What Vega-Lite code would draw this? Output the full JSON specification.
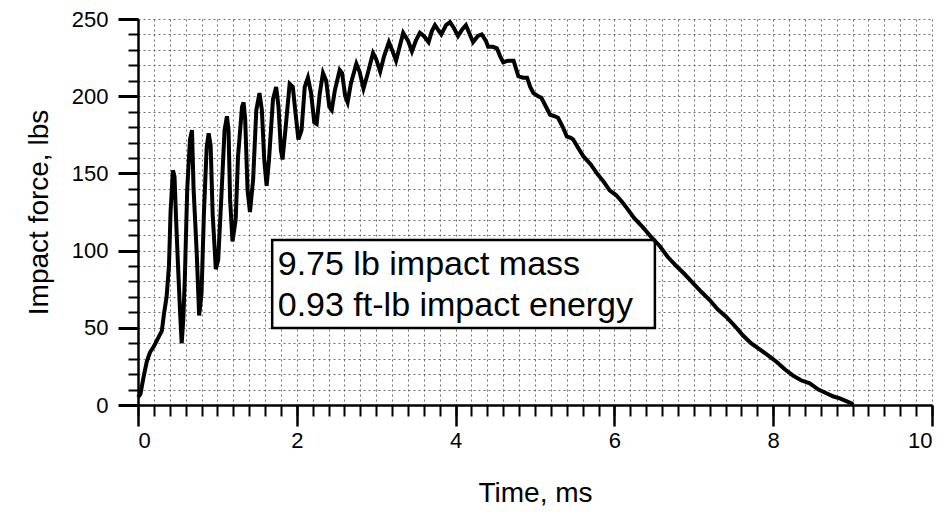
{
  "$schema": "https://vega.github.io/schema/vega-lite/v6.json",
  "width": 794,
  "height": 386,
  "autosize": "none",
  "padding": {"left": 138, "top": 19, "right": 18, "bottom": 107},
  "background": "white",
  "config": {
    "view": {"stroke": null},
    "font": "Liberation Sans",
    "axis": {
      "labelFont": "Liberation Sans",
      "titleFont": "Liberation Sans",
      "labelColor": "black",
      "titleColor": "black",
      "tickColor": "black",
      "domainColor": "black",
      "titleFontWeight": "normal"
    }
  },
  "datasets": {
    "force": [
      {"t": 0.00, "F": 5}, {"t": 0.03, "F": 7}, {"t": 0.07, "F": 18}, {"t": 0.11, "F": 28},
      {"t": 0.15, "F": 34}, {"t": 0.20, "F": 38}, {"t": 0.25, "F": 43}, {"t": 0.30, "F": 48},
      {"t": 0.33, "F": 60}, {"t": 0.36, "F": 70}, {"t": 0.39, "F": 90}, {"t": 0.41, "F": 125},
      {"t": 0.44, "F": 152}, {"t": 0.46, "F": 148}, {"t": 0.48, "F": 120}, {"t": 0.50, "F": 95},
      {"t": 0.53, "F": 60}, {"t": 0.55, "F": 40}, {"t": 0.57, "F": 55}, {"t": 0.59, "F": 82},
      {"t": 0.62, "F": 140}, {"t": 0.655, "F": 172}, {"t": 0.68, "F": 178}, {"t": 0.70, "F": 140},
      {"t": 0.74, "F": 98}, {"t": 0.77, "F": 58}, {"t": 0.80, "F": 72}, {"t": 0.83, "F": 124},
      {"t": 0.865, "F": 167}, {"t": 0.89, "F": 176}, {"t": 0.915, "F": 168}, {"t": 0.94, "F": 124},
      {"t": 0.98, "F": 88}, {"t": 1.01, "F": 94}, {"t": 1.05, "F": 135}, {"t": 1.09, "F": 178},
      {"t": 1.12, "F": 187}, {"t": 1.14, "F": 178}, {"t": 1.16, "F": 133}, {"t": 1.19, "F": 106},
      {"t": 1.23, "F": 120}, {"t": 1.26, "F": 161}, {"t": 1.31, "F": 193}, {"t": 1.33, "F": 196},
      {"t": 1.35, "F": 185}, {"t": 1.38, "F": 139}, {"t": 1.41, "F": 125}, {"t": 1.45, "F": 146},
      {"t": 1.49, "F": 191}, {"t": 1.53, "F": 202}, {"t": 1.56, "F": 191}, {"t": 1.59, "F": 159},
      {"t": 1.62, "F": 142}, {"t": 1.65, "F": 159}, {"t": 1.70, "F": 198}, {"t": 1.74, "F": 206},
      {"t": 1.77, "F": 193}, {"t": 1.80, "F": 165}, {"t": 1.82, "F": 159}, {"t": 1.86, "F": 180},
      {"t": 1.91, "F": 208}, {"t": 1.95, "F": 206}, {"t": 1.98, "F": 191}, {"t": 2.02, "F": 172},
      {"t": 2.06, "F": 178}, {"t": 2.10, "F": 206}, {"t": 2.14, "F": 212}, {"t": 2.18, "F": 202},
      {"t": 2.22, "F": 183}, {"t": 2.25, "F": 182}, {"t": 2.29, "F": 202}, {"t": 2.33, "F": 215},
      {"t": 2.37, "F": 210}, {"t": 2.41, "F": 193}, {"t": 2.44, "F": 191}, {"t": 2.48, "F": 204},
      {"t": 2.54, "F": 217}, {"t": 2.57, "F": 215}, {"t": 2.61, "F": 200}, {"t": 2.64, "F": 196},
      {"t": 2.68, "F": 208}, {"t": 2.75, "F": 221}, {"t": 2.79, "F": 216}, {"t": 2.84, "F": 205},
      {"t": 2.89, "F": 214}, {"t": 2.96, "F": 228}, {"t": 3.00, "F": 224}, {"t": 3.05, "F": 216},
      {"t": 3.10, "F": 226}, {"t": 3.16, "F": 235}, {"t": 3.20, "F": 230}, {"t": 3.25, "F": 223},
      {"t": 3.30, "F": 233}, {"t": 3.34, "F": 241}, {"t": 3.40, "F": 236}, {"t": 3.45, "F": 229},
      {"t": 3.50, "F": 236}, {"t": 3.55, "F": 241}, {"t": 3.60, "F": 239}, {"t": 3.66, "F": 235},
      {"t": 3.70, "F": 242}, {"t": 3.74, "F": 246}, {"t": 3.78, "F": 243}, {"t": 3.82, "F": 240},
      {"t": 3.88, "F": 246}, {"t": 3.93, "F": 248}, {"t": 3.98, "F": 244}, {"t": 4.03, "F": 239},
      {"t": 4.08, "F": 243}, {"t": 4.13, "F": 246}, {"t": 4.18, "F": 240}, {"t": 4.22, "F": 235},
      {"t": 4.28, "F": 239}, {"t": 4.33, "F": 240}, {"t": 4.38, "F": 236}, {"t": 4.41, "F": 232},
      {"t": 4.47, "F": 232}, {"t": 4.52, "F": 231}, {"t": 4.56, "F": 226}, {"t": 4.60, "F": 222},
      {"t": 4.66, "F": 223}, {"t": 4.73, "F": 223}, {"t": 4.76, "F": 218}, {"t": 4.79, "F": 213},
      {"t": 4.85, "F": 212}, {"t": 4.90, "F": 212}, {"t": 4.94, "F": 206}, {"t": 4.98, "F": 202},
      {"t": 5.04, "F": 200}, {"t": 5.08, "F": 199}, {"t": 5.14, "F": 193}, {"t": 5.19, "F": 188},
      {"t": 5.25, "F": 187}, {"t": 5.29, "F": 186}, {"t": 5.35, "F": 180}, {"t": 5.40, "F": 174},
      {"t": 5.45, "F": 173}, {"t": 5.48, "F": 172}, {"t": 5.55, "F": 166}, {"t": 5.61, "F": 161},
      {"t": 5.70, "F": 156}, {"t": 5.78, "F": 150}, {"t": 5.86, "F": 145}, {"t": 5.94, "F": 139},
      {"t": 6.02, "F": 136}, {"t": 6.09, "F": 132}, {"t": 6.15, "F": 128}, {"t": 6.25, "F": 121},
      {"t": 6.36, "F": 115}, {"t": 6.46, "F": 109}, {"t": 6.57, "F": 103}, {"t": 6.67, "F": 96},
      {"t": 6.78, "F": 90}, {"t": 6.88, "F": 85}, {"t": 6.99, "F": 79}, {"t": 7.10, "F": 73},
      {"t": 7.20, "F": 68}, {"t": 7.30, "F": 62}, {"t": 7.41, "F": 57}, {"t": 7.52, "F": 51},
      {"t": 7.62, "F": 45}, {"t": 7.72, "F": 40}, {"t": 7.83, "F": 36}, {"t": 7.94, "F": 32},
      {"t": 8.04, "F": 28}, {"t": 8.15, "F": 23}, {"t": 8.25, "F": 19}, {"t": 8.35, "F": 16},
      {"t": 8.46, "F": 14}, {"t": 8.57, "F": 10}, {"t": 8.67, "F": 7.6}, {"t": 8.76, "F": 5.5},
      {"t": 8.84, "F": 4.3}, {"t": 8.92, "F": 2.5}, {"t": 8.99, "F": 1}, {"t": 9.00, "F": 0}
    ],
    "box": [{"x1": 1.69, "x2": 6.51, "y1": 49.9, "y2": 106.9}],
    "notes": [
      {"t": 1.76, "F": 90.7, "label": "9.75 lb impact mass"},
      {"t": 1.76, "F": 63.8, "label": "0.93 ft-lb impact energy"}
    ]
  },
  "resolve": {"axis": {"x": "independent", "y": "independent"}},
  "layer": [
    {
      "data": {"name": "force"},
      "mark": {"type": "line", "strokeOpacity": 0},
      "encoding": {
        "x": {
          "field": "t", "type": "quantitative",
          "scale": {"domain": [0, 10], "nice": false, "zero": false},
          "axis": {
            "orient": "bottom",
            "values": [0,0.2,0.4,0.6,0.8,1,1.2,1.4,1.6,1.8,2,2.2,2.4,2.6,2.8,3,3.2,3.4,3.6,3.8,4,4.2,4.4,4.6,4.8,5,5.2,5.4,5.6,5.8,6,6.2,6.4,6.6,6.8,7,7.2,7.4,7.6,7.8,8,8.2,8.4,8.6,8.8,9,9.2,9.4,9.6,9.8,10],
            "labels": false, "title": null,
            "grid": true, "gridDash": [2, 3], "gridColor": "#555", "gridWidth": 1, "gridOpacity": 0.85,
            "ticks": true, "tickSize": 11, "tickWidth": 2,
            "domain": true, "domainWidth": 2.5
          }
        },
        "y": {
          "field": "F", "type": "quantitative",
          "scale": {"domain": [0, 250], "nice": false},
          "axis": {
            "orient": "left",
            "values": [0,10,20,30,40,50,60,70,80,90,100,110,120,130,140,150,160,170,180,190,200,210,220,230,240,250],
            "labels": false, "title": null,
            "grid": true, "gridDash": [2, 3], "gridColor": "#555", "gridWidth": 1, "gridOpacity": 0.85,
            "ticks": true, "tickSize": 10, "tickWidth": 2,
            "domain": true, "domainWidth": 2.5
          }
        }
      }
    },
    {
      "data": {"name": "box"},
      "mark": {"type": "rect", "fill": "white", "stroke": "black", "strokeWidth": 2.5},
      "encoding": {
        "x": {"field": "x1", "type": "quantitative", "axis": null},
        "x2": {"field": "x2"},
        "y": {"field": "y1", "type": "quantitative", "axis": null},
        "y2": {"field": "y2"}
      }
    },
    {
      "data": {"name": "notes"},
      "mark": {"type": "text", "align": "left", "baseline": "middle", "fontSize": 34, "font": "Liberation Sans", "color": "black"},
      "encoding": {
        "x": {"field": "t", "type": "quantitative", "axis": null},
        "y": {"field": "F", "type": "quantitative", "axis": null},
        "text": {"field": "label"}
      }
    },
    {
      "data": {"name": "force"},
      "mark": {"type": "line", "color": "black", "strokeWidth": 4, "strokeJoin": "miter"},
      "encoding": {
        "x": {
          "field": "t", "type": "quantitative",
          "axis": {
            "orient": "bottom",
            "values": [0, 2, 4, 6, 8, 10],
            "title": "Time, ms", "titleFontSize": 28, "titlePadding": 28,
            "labelFontSize": 22, "labelPadding": 4,
            "grid": false, "domain": false,
            "ticks": true, "tickSize": 21, "tickWidth": 2.5
          }
        },
        "y": {
          "field": "F", "type": "quantitative",
          "axis": {
            "orient": "left",
            "values": [0, 50, 100, 150, 200, 250],
            "title": "Impact force, lbs", "titleFontSize": 28, "titlePadding": 18,
            "labelFontSize": 22, "labelPadding": 10,
            "grid": false, "domain": false,
            "ticks": true, "tickSize": 20, "tickWidth": 3
          }
        }
      }
    }
  ]
}
